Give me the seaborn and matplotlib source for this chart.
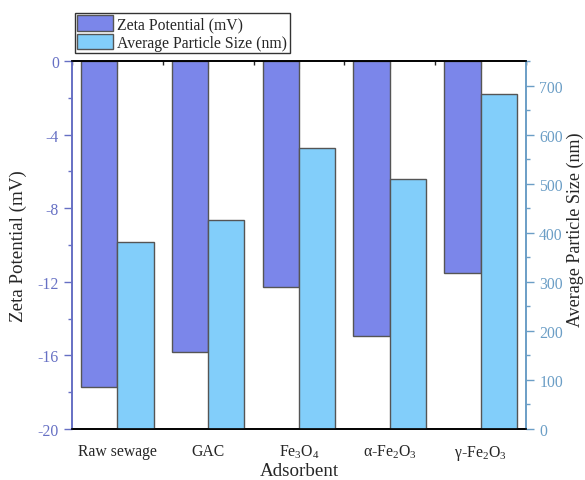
import numpy as np
import pandas as pd
import matplotlib
matplotlib.use('Agg')
import matplotlib.pyplot as plt
from matplotlib.ticker import MultipleLocator, FixedLocator
import seaborn as sns

# data
adsorbents = ['Raw sewage', 'GAC', r'Fe$_3$O$_4$', r'α-Fe$_2$O$_3$', r'γ-Fe$_2$O$_3$']
zeta = [-17.7, -15.8, -12.3, -14.95, -11.5]
size = [381, 426, 573, 509, 683]

sns.set_style('white')
plt.rcParams['font.family'] = ['Liberation Serif', 'DejaVu Serif']
plt.rcParams['mathtext.fontset'] = 'custom'
plt.rcParams['mathtext.rm'] = 'Liberation Serif'
plt.rcParams['mathtext.it'] = 'Liberation Serif:italic'
plt.rcParams['axes.unicode_minus'] = False

zeta_col = '#7b86ea'
size_col = '#82cefa'
left_col = '#6670c4'
right_col = '#6b9ec6'
edge = '#555555'

pos = np.arange(1, len(adsorbents) + 1)
df = pd.DataFrame({'pos': pos, 'zeta': zeta, 'size': size})
df['zpos'] = df['pos'] - 0.2
df['spos'] = df['pos'] + 0.2

fig = plt.figure(figsize=(5.85, 4.81), dpi=100)
ax = fig.add_axes([0.123, 0.106, 0.776, 0.765])
ax2 = ax.twinx()

sns.barplot(data=df, x='zpos', y='zeta', native_scale=True, width=0.4,
            color=zeta_col, edgecolor=edge, linewidth=1, saturation=1, ax=ax)
sns.barplot(data=df, x='spos', y='size', native_scale=True, width=0.4,
            color=size_col, edgecolor=edge, linewidth=1, saturation=1, ax=ax2)

ax.set_xlim(0.5, len(adsorbents) + 0.5)
ax.set_ylim(-20, 0)
ax2.set_ylim(0, 750)

ax.xaxis.set_major_locator(FixedLocator(pos))
ax.xaxis.set_minor_locator(FixedLocator(np.arange(0.5, len(adsorbents) + 1, 1.0)))
ax.set_xticklabels(adsorbents, fontsize=11.3)
ax.tick_params(axis='x', which='major', direction='out', length=6, width=1, color='black', pad=4)
ax.tick_params(axis='x', which='minor', direction='out', length=3, width=1, color='black')

top = ax.secondary_xaxis('top')
top.xaxis.set_major_locator(FixedLocator(pos))
top.xaxis.set_minor_locator(FixedLocator(np.arange(0.5, len(adsorbents) + 1, 1.0)))
top.tick_params(axis='x', which='major', direction='in', length=6, width=1.5, labeltop=False)
top.tick_params(axis='x', which='minor', direction='in', length=3, width=1, labeltop=False)
top.spines['top'].set_visible(False)

ax.yaxis.set_major_locator(MultipleLocator(4))
ax.yaxis.set_minor_locator(MultipleLocator(2))
ax.tick_params(axis='y', which='major', direction='out', length=6, width=1, color=left_col,
               labelcolor=left_col, labelsize=11.3)
ax.tick_params(axis='y', which='minor', direction='out', length=3, width=1, color=left_col)
ax.set_yticks(np.arange(-20, 1, 4))

ax2.yaxis.set_major_locator(MultipleLocator(100))
ax2.yaxis.set_minor_locator(MultipleLocator(50))
ax2.tick_params(axis='y', which='major', direction='out', length=6, width=1, color=right_col,
                labelcolor=right_col, labelsize=11.3)
ax2.tick_params(axis='y', which='minor', direction='out', length=3, width=1, color=right_col)

for a in (ax, ax2):
    for s in a.spines.values():
        s.set_visible(True)
        s.set_linewidth(1.2)
    a.spines['top'].set_color('black')
    a.spines['bottom'].set_color('black')
    a.spines['left'].set_color(left_col)
    a.spines['right'].set_color(right_col)

ax.set_xlabel('Adsorbent', fontsize=13.7)
ax.xaxis.set_label_coords(0.5, -0.09)
ax.set_ylabel('Zeta Potential (mV)', fontsize=13.7)
ax.yaxis.set_label_coords(-0.099, 0.5)
ax2.set_ylabel('Average Particle Size (nm)', fontsize=13)
ax2.yaxis.set_label_coords(1.09, 0.543)

handles = [plt.Rectangle((0, 0), 1, 1, facecolor=zeta_col, edgecolor=edge),
           plt.Rectangle((0, 0), 1, 1, facecolor=size_col, edgecolor=edge)]
leg = fig.legend(handles, ['Zeta Potential (mV)', 'Average Particle Size (nm)'],
                 loc='upper left', bbox_to_anchor=(0.128, 0.971), fontsize=11.3,
                 frameon=True, fancybox=False, edgecolor='black', borderpad=0.15,
                 handlelength=2.3, handleheight=1.15, handletextpad=0.25,
                 labelspacing=0.08, borderaxespad=0)
leg.get_frame().set_linewidth(1)

fig.savefig('out.png', dpi=100)
